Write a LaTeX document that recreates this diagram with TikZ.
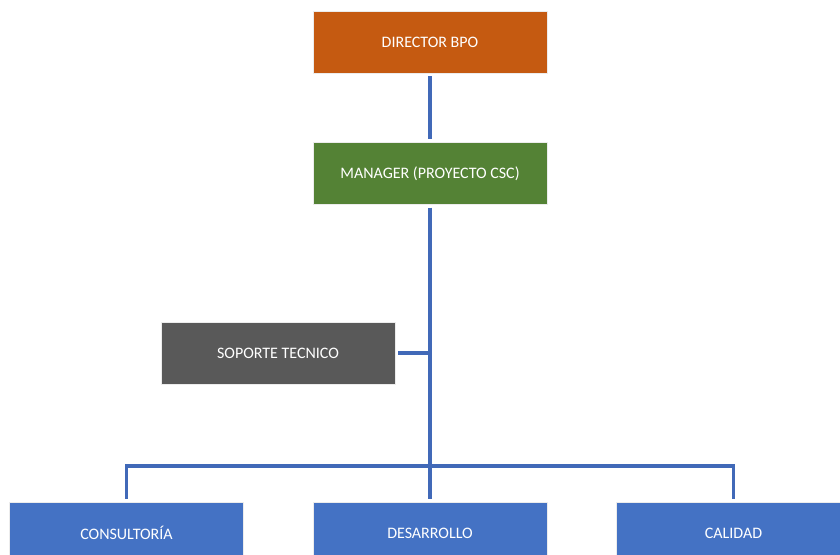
\documentclass[tikz,border=0pt]{standalone}
\usepackage{fontspec}
\setmainfont{Carlito}
\definecolor{boxorange}{HTML}{C55A11}
\definecolor{boxgreen}{HTML}{548235}
\definecolor{boxgray}{HTML}{595959}
\definecolor{boxblue}{HTML}{4472C4}
\definecolor{linkblue}{HTML}{4169B8}
\begin{document}
\begin{tikzpicture}[x=0.75pt,y=-0.75pt,
  unit/.style={draw=white!85!gray, line width=0.4pt, text=white,
    minimum width=175.5pt, minimum height=46.5pt, inner sep=0pt,
    outer sep=2.4pt, font=\fontsize{12}{14}\selectfont},
  link/.style={draw=linkblue, line width=2.3pt}]
  \useasboundingbox (0,0) rectangle (840,555);
  \node[unit, fill=boxorange] (dir) at (430,42) {DIRECTOR BPO};
  \node[unit, fill=boxgreen]  (man) at (430,173.5) {MANAGER (PROYECTO CSC)};
  \node[unit, fill=boxgray]   (sop) at (278,353) {SOPORTE TECNICO};
  \node[unit, fill=boxblue]   (con) at (126.5,533) {CONSULTORÍA};
  \node[unit, fill=boxblue]   (des) at (430,533) {DESARROLLO};
  \node[unit, fill=boxblue]   (cal) at (733.5,533) {CALIDAD};
  \coordinate (bus) at (430,466);
  % reporting lines
  \draw[link] (dir.south) -- (man.north);
  \draw[link] (man.south) -- (des.north);
  \draw[link] (sop.east) -- (sop.east -| man.south);
  \draw[link] (con.north) |- (bus) -| (cal.north);
\end{tikzpicture}
\end{document}
